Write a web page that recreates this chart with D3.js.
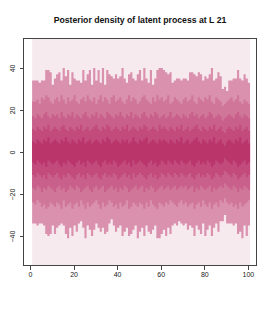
<!DOCTYPE html>
<html><head><meta charset="utf-8">
<script src="https://cdn.jsdelivr.net/npm/d3@7"></script>
<style>html,body{margin:0;padding:0;background:#fff;}svg{display:block;}</style>
</head><body>
<script>
const title = "Posterior density of latent process at L 21";
const xTicks = [0, 20, 40, 60, 80, 100];
const yTicks = [-40, -20, 0, 20, 40];
const bandColors = ["#f7eaef", "#da91ad", "#d07699", "#c9608b", "#c24b7c", "#b9356a"];

// outer band (±~36)
const up1 = [34,34,34,33,34,34,39,39,38,32, 35,37,38,34,40,36,39,32,38,35, 34,34,33,39,34,37,39,32,40,34, 39,33,40,32,39,37,36,35,37,35, 36,40,35,33,37,38,35,34,37,39, 34,40,35,33,39,32,35,39,40,40, 39,38,37,38,33,34,35,35,34,35, 35,34,38,38,37,36,38,37,34,36, 35,37,40,34,35,38,36,30,31,29, 34,34,35,35,39,35,34,37,35,33];
const lo1 = [-34,-34,-35,-34,-34,-35,-39,-40,-39,-35, -39,-36,-35,-34,-35,-39,-41,-36,-40,-35, -38,-34,-33,-36,-41,-35,-37,-40,-37,-34, -36,-38,-36,-39,-38,-34,-32,-35,-38,-36, -35,-40,-38,-36,-40,-39,-37,-35,-41,-38, -36,-40,-35,-38,-39,-37,-35,-41,-41,-39, -37,-40,-36,-39,-35,-34,-35,-33,-34,-35, -34,-37,-35,-36,-40,-35,-37,-39,-34,-40, -37,-35,-40,-36,-34,-38,-33,-33,-30,-34, -34,-34,-35,-34,-39,-38,-41,-35,-40,-35];
// band ±~24
const up2 = [24,24,25,23,26,25,27,26,24,23, 25,26,24,27,25,23,26,24,25,27, 24,23,25,26,24,27,25,24,26,23, 25,27,24,26,25,23,26,27,24,25, 26,24,23,25,27,24,26,25,23,24, 26,27,25,24,23,26,24,27,25,26, 24,25,27,23,24,26,25,24,23,25, 26,24,25,27,24,23,26,25,24,26, 25,27,24,23,26,25,24,22,23,24, 25,26,24,25,27,24,23,25,24,23];
const lo2 = [-24,-25,-23,-24,-26,-25,-27,-26,-24,-25, -26,-24,-25,-27,-23,-26,-25,-24,-27,-25, -24,-26,-23,-25,-27,-24,-26,-25,-24,-23, -25,-27,-24,-26,-25,-23,-24,-26,-25,-27, -24,-26,-25,-23,-27,-26,-24,-25,-26,-24, -25,-27,-24,-26,-23,-25,-26,-27,-24,-25, -26,-24,-25,-23,-24,-25,-26,-24,-23,-25, -24,-26,-25,-24,-27,-25,-24,-26,-23,-25, -26,-24,-27,-25,-24,-26,-23,-24,-22,-24, -25,-24,-26,-25,-27,-24,-26,-25,-24,-23];
// band ±~17
const up3 = [17,16,18,17,16,18,19,17,16,18, 17,18,16,19,17,16,18,17,19,16, 18,17,16,18,19,17,16,18,17,19, 16,18,17,16,19,18,17,16,18,17, 19,17,16,18,17,19,16,18,17,16, 18,19,17,16,18,17,19,18,16,17, 18,16,17,19,16,17,18,17,16,18, 17,16,18,19,17,18,16,17,18,16, 17,19,18,16,17,18,17,15,16,17, 18,17,16,18,19,17,16,18,17,16];
const lo3 = [-17,-18,-16,-17,-19,-17,-18,-16,-17,-18, -19,-17,-16,-18,-17,-19,-18,-16,-17,-18, -16,-17,-19,-18,-17,-16,-18,-19,-17,-16, -18,-17,-16,-19,-18,-17,-16,-18,-17,-19, -17,-18,-16,-17,-19,-18,-17,-16,-18,-17, -16,-19,-17,-18,-16,-17,-19,-18,-17,-16, -18,-17,-16,-18,-17,-16,-18,-17,-16,-17, -16,-18,-17,-16,-19,-17,-18,-16,-17,-18, -17,-16,-19,-17,-18,-17,-16,-17,-15,-16, -17,-18,-16,-17,-19,-17,-18,-16,-17,-18];
// band ±~11
const up4 = [11,10,12,11,10,12,11,13,10,11, 12,11,10,12,13,11,10,12,11,10, 12,11,13,10,11,12,10,11,12,13, 11,10,12,11,13,12,10,11,12,11, 10,12,11,13,10,11,12,11,10,12, 11,13,12,10,11,12,11,10,13,11, 12,11,10,12,11,10,12,11,13,10, 11,12,10,11,12,13,11,10,12,11, 10,12,11,13,10,11,12,10,9,11, 12,11,10,12,11,13,10,11,12,10];
const lo4 = [-11,-12,-10,-11,-12,-11,-13,-10,-11,-12, -11,-10,-12,-13,-11,-12,-10,-11,-12,-13, -11,-10,-12,-11,-13,-10,-11,-12,-11,-10, -12,-13,-11,-10,-12,-11,-12,-10,-11,-13, -12,-11,-10,-12,-11,-13,-10,-12,-11,-10, -11,-12,-13,-11,-10,-12,-11,-13,-12,-10, -11,-12,-10,-11,-12,-10,-11,-12,-10,-11, -12,-11,-10,-12,-13,-11,-10,-12,-11,-12, -10,-11,-13,-12,-10,-11,-12,-11,-9,-10, -11,-12,-10,-11,-13,-12,-11,-10,-12,-11];
// central band ±~5
const up5 = [5,4,6,5,4,6,5,7,4,5, 6,5,4,6,5,7,5,4,6,5, 4,6,5,7,4,5,6,4,5,6, 5,4,6,5,7,6,4,5,6,5, 4,6,5,6,4,5,7,5,4,6, 5,6,7,4,5,6,5,4,6,5, 6,5,4,6,5,4,6,5,7,4, 5,6,4,5,6,7,5,4,6,5, 4,6,5,7,4,5,6,4,3,5, 6,5,4,6,5,7,4,5,6,4];
const lo5 = [-5,-6,-4,-5,-6,-5,-7,-4,-5,-6, -5,-4,-6,-7,-5,-6,-4,-5,-6,-7, -5,-4,-6,-5,-7,-4,-5,-6,-5,-4, -6,-7,-5,-4,-6,-5,-6,-4,-5,-7, -6,-5,-4,-6,-5,-7,-4,-6,-5,-4, -5,-6,-7,-5,-4,-6,-5,-7,-6,-4, -5,-6,-4,-5,-6,-4,-5,-6,-4,-5, -6,-5,-4,-6,-7,-5,-4,-6,-5,-6, -4,-5,-7,-6,-4,-5,-6,-5,-3,-4, -5,-6,-4,-5,-7,-6,-5,-4,-6,-5];

const W = 275, H = 314;
const L = 23.5, R = 256.5, T = 38.5, B = 265.5;
const x = d3.scaleLinear().domain([-2.96, 103.96]).range([L, R]);
const y = d3.scaleLinear().domain([-54, 54]).range([B, T]);

const svg = d3.select("body").append("svg").attr("width", W).attr("height", H);
svg.append("defs").append("clipPath").attr("id", "clip")
  .append("rect").attr("x", L).attr("y", T).attr("width", R - L).attr("height", B - T);

const n = up1.length;
const bands = [
  {up: up1.map(() => y.domain()[1] + 10), lo: up1.map(() => y.domain()[0] - 10)},
  {up: up1, lo: lo1},
  {up: up2, lo: lo2},
  {up: up3, lo: lo3},
  {up: up4, lo: lo4},
  {up: up5, lo: lo5}
];

const area = d3.area()
  .curve(d3.curveStepAfter)
  .x(d => x(d.t))
  .y0(d => y(d.lo))
  .y1(d => y(d.hi));

const g = svg.append("g").attr("clip-path", "url(#clip)");
bands.forEach((b, k) => {
  const pts = d3.range(n).map(i => ({t: i + 1, lo: b.lo[i], hi: b.up[i]}));
  pts.push({t: n + 1, lo: b.lo[n - 1], hi: b.up[n - 1]});
  g.append("path").attr("d", area(pts)).attr("fill", bandColors[k]);
});

// box
svg.append("rect").attr("x", L).attr("y", T).attr("width", R - L).attr("height", B - T)
  .attr("fill", "none").attr("stroke", "#444").attr("stroke-width", 1);

const font = "'Liberation Sans', Arial, Helvetica, sans-serif";
// x axis
const xa = svg.append("g").attr("transform", `translate(0,${B})`)
  .call(d3.axisBottom(x).tickValues(xTicks).tickSize(4).tickPadding(3).tickFormat(d3.format("d")));
xa.select(".domain").remove();
xa.selectAll("line").attr("stroke", "#444").attr("shape-rendering", "crispEdges");
xa.selectAll("text").attr("font-family", font).attr("font-size", 7).attr("fill", "#222");

// y axis
const ya = svg.append("g").attr("transform", `translate(${L},0)`)
  .call(d3.axisLeft(y).tickValues(yTicks).tickSize(4).tickFormat(d3.format("d")));
ya.select(".domain").remove();
ya.selectAll("line").attr("stroke", "#444").attr("shape-rendering", "crispEdges");
ya.selectAll("text")
  .attr("font-family", font).attr("font-size", 7).attr("fill", "#222")
  .attr("x", null).attr("dy", null)
  .attr("text-anchor", "middle")
  .attr("transform", "translate(-8.5,0) rotate(-90)");

svg.append("text").attr("x", 140).attr("y", 23.3).attr("text-anchor", "middle")
  .attr("font-family", font).attr("font-weight", "bold").attr("font-size", 8.7)
  .attr("fill", "#111").text(title);
</script>
</body></html>
